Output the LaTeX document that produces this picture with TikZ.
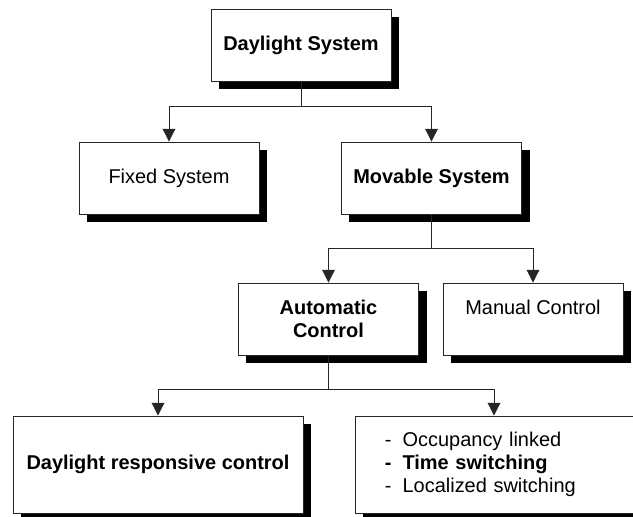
\documentclass[tikz,border=0pt]{standalone}
\usepackage{fontspec}
\setmainfont{Liberation Sans}
\usetikzlibrary{arrows.meta,shadows}
\begin{document}
\begin{tikzpicture}[x=0.025cm, y=-0.025cm,
    boxStyle/.style={rectangle, draw=black!85, line width=0.6pt, fill=white, minimum width=4.5cm, minimum height=1.8cm, font=\fontsize{14.2}{16.5}\selectfont, align=center, drop shadow={shadow xshift=0.2cm, shadow yshift=-0.2cm, opacity=1, fill=black}},
    wideStyle/.style={boxStyle, minimum width=7.25cm, minimum height=2.425cm},
    lineStyle/.style={line width=0.6pt, black!85},
    arrowStyle/.style={lineStyle, -{Triangle[length=0.32cm, width=0.32cm]}}]
                    \useasboundingbox (0,0) rectangle (633,517);
                    \clip (0,0) rectangle (633,517);

                    \node[boxStyle, font=\fontsize{14.2}{16.5}\selectfont\bfseries] (root) at (301, 45) {Daylight System};

                    \node[boxStyle] (fixed) at (169, 178) {Fixed System};
                    \node[boxStyle, font=\fontsize{14.2}{16.5}\selectfont\bfseries] (movable) at (431.5, 178) {Movable System};

                    \node[boxStyle, font=\fontsize{14.2}{16.5}\selectfont\bfseries] (auto) at (328.5, 319) {Automatic\\Control};
                    \node[boxStyle, text depth=0.6cm] (manual) at (533, 319) {Manual Control};

                    \node[wideStyle, font=\fontsize{14.2}{16.5}\selectfont\bfseries] (resp) at (158, 464.5) {Daylight responsive control};
                    \node[wideStyle, align=left, text width=5.75cm, inner xsep=0.75cm] (modes) at (500, 464.5) {-\hspace{0.55em}Occupancy linked\\\textbf{-\hspace{0.55em}Time switching}\\-\hspace{0.55em}Localized switching};

                    \coordinate (j1) at (301, 106);
                    \coordinate (j2) at (431.5, 248);
                    \coordinate (j3) at (328.5, 389);

                    \draw[lineStyle] (root.south) -- (j1);
                    \draw[arrowStyle] (j1) -| (fixed.north);
                    \draw[arrowStyle] (j1) -| (movable.north);

                    \draw[lineStyle] (movable.south) -- (j2);
                    \draw[arrowStyle] (j2) -| (auto.north);
                    \draw[arrowStyle] (j2) -| (manual.north);

                    \draw[lineStyle] (auto.south) -- (j3);
                    \draw[arrowStyle] (j3) -| (resp.north);
                    \draw[arrowStyle] (j3) -| ([xshift=-0.15cm]modes.north);
\end{tikzpicture}
\end{document}
